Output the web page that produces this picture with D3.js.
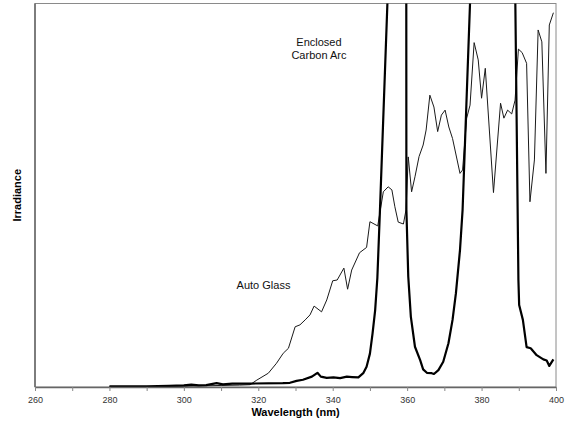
<!DOCTYPE html>
<html>
<head>
<meta charset="utf-8">
<script src="https://cdn.jsdelivr.net/npm/d3@7"></script>
<style>
  body { margin: 0; background: #fff; }
  svg { font-family: "Liberation Sans", Arial, sans-serif; }
</style>
</head>
<body>
<div id="chart"></div>
<script>
// Auto Glass (thin line)
const glassNm = [280, 290, 300, 305, 310, 315, 317.8, 319.6, 322.7, 324.9, 326.7, 328.1, 329.9, 331.2,
  332.6, 333.9, 335.0, 337.0, 338.4, 340.0, 341.2, 343.0, 344.0, 345.1, 347.2, 349.1, 350.0, 352.1,
  353.6, 354.9, 355.9, 356.7, 357.6, 359.0, 359.7, 360.3, 361.2, 362.1, 363.2, 364.3, 365.1, 366.1,
  367.2, 368.2, 369.2, 370.2, 371.2, 372.2, 374.2, 374.9, 376.0, 376.9, 378.0, 379.1, 380.0, 381.0,
  383.2, 385.1, 386.0, 387.0, 388.1, 389.0, 389.9, 390.9, 392.1, 393.0, 394.2, 395.2, 396.2, 397.3,
  398.2, 399.3];
const glassIrr = [0.1, 0.1, 0.2, 0.3, 0.4, 0.5, 0.6, 1.8, 3.6, 6.2, 8.8, 10.1, 15.7, 16.2,
  17.5, 18.8, 21.1, 19.6, 22.7, 27.7, 27.9, 31.0, 25.5, 30.5, 35.0, 36.4, 43.1, 42.0,
  50.9, 52.2, 51.4, 47.0, 43.0, 42.5, 46.2, 60.0, 50.9, 54.8, 60.1, 63.1, 67.0, 76.1,
  73.0, 66.6, 70.9, 72.2, 67.8, 64.8, 55.7, 56.6, 70.1, 73.5, 89.8, 85.3, 75.3, 83.1,
  50.7, 74.0, 70.1, 72.2, 71.2, 74.8, 88.1, 87.2, 84.4, 48.3, 59.2, 93.1, 90.0, 55.7,
  94.4, 97.6];

// Enclosed Carbon Arc (thick line)
const arcNm = [280, 290, 296, 300, 302, 304, 306, 308.8, 310.5, 313, 318, 326.6, 328.5, 330.3,
  332.0, 334.4, 335.9, 336.8, 338.4, 340.2, 342.0, 343.8, 345.2, 346.9, 348.2, 349.1, 350.0, 350.7,
  351.4, 352.0, 352.7, 359.7, 359.8, 360.3, 361.0, 362.1, 363.5, 364.3, 365.3, 366.6, 367.2, 368.4,
  369.7, 371.1, 372.2, 373.1, 374.2, 374.9, 386.2, 389.9, 390.1, 391.1, 392.1, 393.2, 394.8, 396.6,
  397.5, 398.2, 399.3];
const arcIrr = [0.2, 0.2, 0.3, 0.4, 0.6, 0.4, 0.5, 1.0, 0.7, 0.9, 0.9, 1.0, 1.1, 1.6,
  1.9, 2.7, 3.7, 2.7, 2.4, 2.5, 2.3, 2.7, 2.6, 2.5, 3.6, 5.3, 8.7, 13.9,
  20.0, 28.5, 46.2, 235, 46.2, 28.8, 18.3, 10.5, 7.0, 4.6, 3.7, 3.6, 3.4, 4.4,
  6.6, 11.4, 17.5, 24.4, 35.7, 46.2, 351, 27.9, 21.4, 17.5, 10.4, 10.1, 8.3, 7.2,
  6.9, 5.5, 7.2];

const xTicks = [260, 270, 280, 290, 300, 310, 320, 330, 340, 350, 360, 370, 380, 390, 400];
const labels = [
  { text: "Enclosed", nm: 336.3, irr: 88.9 },
  { text: "Carbon Arc", nm: 336.3, irr: 85.5 },
  { text: "Auto Glass", nm: 321.4, irr: 25.6 }
];

const width = 572;
const height = 421;
const plotLeft = 35, plotRight = 556, plotTop = 3.5, plotBottom = 387;

const svg = d3.select("#chart").append("svg")
  .attr("width", width)
  .attr("height", height);

const xScale = d3.scaleLinear().domain([260, 400]).range([plotLeft, plotRight]);
const yScale = d3.scaleLinear().domain([0, 100]).range([plotBottom, plotTop]);

svg.append("clipPath").attr("id", "plot-clip")
  .append("rect")
  .attr("x", plotLeft).attr("y", plotTop)
  .attr("width", plotRight - plotLeft).attr("height", plotBottom - plotTop);

// frame
svg.append("rect")
  .attr("x", plotLeft).attr("y", plotTop)
  .attr("width", plotRight - plotLeft).attr("height", plotBottom - plotTop)
  .attr("fill", "none")
  .attr("stroke", "#8a8a8a")
  .attr("stroke-width", 1);

const line = d3.line()
  .x((d) => xScale(d[0]))
  .y((d) => yScale(d[1]));

const plot = svg.append("g").attr("clip-path", "url(#plot-clip)");

plot.append("path")
  .datum(glassNm.map((n, i) => [n, glassIrr[i]]))
  .attr("fill", "none")
  .attr("stroke", "#1a1a1a")
  .attr("stroke-width", 1)
  .attr("stroke-linejoin", "round")
  .attr("d", line);

plot.append("path")
  .datum(arcNm.map((n, i) => [n, arcIrr[i]]))
  .attr("fill", "none")
  .attr("stroke", "#000")
  .attr("stroke-width", 2.2)
  .attr("stroke-linejoin", "round")
  .attr("d", line);

// axes
const xAxis = d3.axisBottom(xScale)
  .tickValues(xTicks)
  .tickFormat((d) => (d % 20 === 0 ? d : ""))
  .tickSize(4)
  .tickSizeOuter(0);

const gx = svg.append("g")
  .attr("transform", "translate(0," + plotBottom + ")")
  .call(xAxis);
gx.select(".domain").attr("stroke", "#666").attr("stroke-width", 1.5);
gx.selectAll(".tick line").attr("stroke", "#888");
gx.selectAll(".tick text")
  .attr("y", 9.5)
  .attr("fill", "#333")
  .style("font-size", "9px");

svg.append("line")
  .attr("x1", plotLeft).attr("x2", plotLeft)
  .attr("y1", plotTop).attr("y2", plotBottom)
  .attr("stroke", "#666")
  .attr("stroke-width", 1.5);

// titles
svg.append("text")
  .attr("x", 295.5)
  .attr("y", 416)
  .attr("text-anchor", "middle")
  .style("font-size", "11px")
  .style("font-weight", "bold")
  .text("Wavelength (nm)");

svg.append("text")
  .attr("transform", "translate(21," + (plotTop + plotBottom) / 2 + ") rotate(-90)")
  .attr("text-anchor", "middle")
  .style("font-size", "11px")
  .style("font-weight", "bold")
  .text("Irradiance");

svg.selectAll(".series-label")
  .data(labels)
  .enter()
  .append("text")
  .attr("class", "series-label")
  .attr("x", (d) => xScale(d.nm))
  .attr("y", (d) => yScale(d.irr))
  .attr("text-anchor", "middle")
  .attr("fill", "#111")
  .style("font-size", "11px")
  .text((d) => d.text);
</script>
</body>
</html>
